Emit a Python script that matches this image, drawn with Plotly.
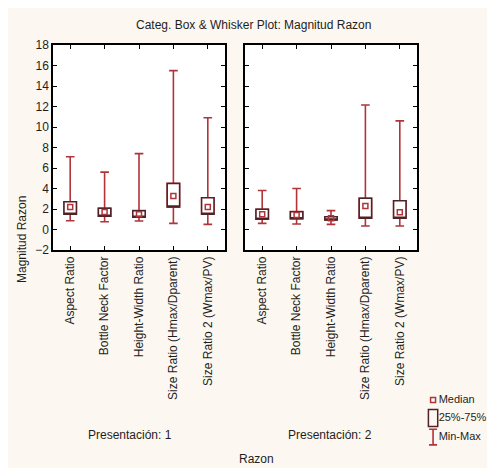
import plotly.graph_objects as go

# ---------------- data ----------------
categories = ["Aspect Ratio", "Bottle Neck Factor", "Height-Width Ratio",
              "Size Ratio (Hmax/Dparent)", "Size Ratio 2 (Wmax/PV)"]
positions = [0, 1, 2, 3, 4]

p1_min = [0.86, 0.76, 0.83, 0.60, 0.50]
p1_q1 = [1.50, 1.30, 1.19, 2.20, 1.50]
p1_med = [2.20, 1.70, 1.48, 3.27, 2.20]
p1_q3 = [2.70, 2.07, 1.84, 4.50, 3.10]
p1_max = [7.10, 5.60, 7.40, 15.50, 10.90]

p2_min = [0.60, 0.54, 0.50, 0.34, 0.34]
p2_q1 = [1.00, 1.05, 0.93, 1.10, 1.10]
p2_med = [1.48, 1.41, 1.10, 2.30, 1.68]
p2_q3 = [1.97, 1.74, 1.25, 3.04, 2.80]
p2_max = [3.80, 4.00, 1.84, 12.15, 10.60]

y_ticks = [-2, 0, 2, 4, 6, 8, 10, 12, 14, 16, 18]
legend_labels = ["Median", "25%-75%", "Min-Max"]

# ---------------- styles ----------------
RED = "#b0343a"
DARK = "#4e2226"
CREAM = "#fcf8f1"
FONT = "Liberation Sans, Arial, sans-serif"
TXT = "#1e1e1e"
BOXW = 0.36

fig = go.Figure()

panels = [
    ("x", "y", p1_min, p1_q1, p1_med, p1_q3, p1_max),
    ("x2", "y2", p2_min, p2_q1, p2_med, p2_q3, p2_max),
]
for xa, ya, mn, q1, md, q3, mx in panels:
    # whiskers (red) with caps
    fig.add_trace(go.Box(
        x=positions, q1=q1, median=md, q3=q3, lowerfence=mn, upperfence=mx,
        width=BOXW, whiskerwidth=0.7, boxpoints=False,
        line=dict(color=RED, width=1.6), fillcolor="rgba(0,0,0,0)",
        xaxis=xa, yaxis=ya, showlegend=False, hoverinfo="skip"))
    # 25%-75% box (dark outline, white fill) covering the inner part
    fig.add_trace(go.Box(
        x=positions, q1=q1, median=q1, q3=q3, lowerfence=q1, upperfence=q3,
        width=BOXW, whiskerwidth=1, boxpoints=False,
        line=dict(color=DARK, width=1.5), fillcolor="white",
        xaxis=xa, yaxis=ya, showlegend=False, hoverinfo="skip"))
    # median marker
    fig.add_trace(go.Scatter(
        x=positions, y=md, mode="markers",
        marker=dict(symbol="square-open", size=5, color=RED, line=dict(width=1.5)),
        xaxis=xa, yaxis=ya, showlegend=False))

# ---------------- custom legend (own hidden axes) ----------------
leg_y = [0.82, 0.50, 0.16]
leg_x = 0.13
fig.add_trace(go.Scatter(
    x=[leg_x], y=[leg_y[0]], mode="markers",
    marker=dict(symbol="square-open", size=5, color=RED, line=dict(width=1.5)),
    xaxis="x3", yaxis="y3", showlegend=False, hoverinfo="skip"))
fig.add_trace(go.Bar(
    x=[leg_x], y=[0.30], base=[leg_y[1] - 0.15], width=[0.15],
    marker=dict(color="rgba(0,0,0,0)", line=dict(color=DARK, width=1.5)),
    xaxis="x3", yaxis="y3", showlegend=False, hoverinfo="skip"))
fig.add_trace(go.Scatter(
    x=[leg_x], y=[leg_y[2]], mode="markers", marker=dict(size=1, color="rgba(0,0,0,0)"),
    error_y=dict(type="data", symmetric=True, array=[0.14], color=RED, thickness=1.6, width=4),
    xaxis="x3", yaxis="y3", showlegend=False, hoverinfo="skip"))
fig.add_trace(go.Scatter(
    x=[0.22] * 3, y=leg_y, mode="text", text=legend_labels, textposition="middle right",
    textfont=dict(family=FONT, size=11, color=TXT),
    xaxis="x3", yaxis="y3", showlegend=False, hoverinfo="skip"))

# ---------------- layout ----------------
# page body has an 8px margin -> screen coordinate = figure coordinate + 8
OFF = 8
W, H = 495, 468
ML = 53 - OFF          # plot area left  (screen 53)
MT = 45 - OFF          # plot area top   (screen 45)
MR = W - (487 - OFF)   # plot area right (screen 487)
MB = H - (448 - OFF)   # plot area bottom (screen 448)
PW, PH = W - ML - MR, H - MT - MB


def px(xs):
    return (xs - OFF - ML) / PW


def py(ys):
    return (H - MB - (ys - OFF)) / PH


xcommon = dict(
    tickmode="array", tickvals=positions, ticktext=categories, tickangle=-90,
    range=[-0.5, 4.5], showline=True, linecolor="black", linewidth=1.5,
    mirror="ticks", ticks="inside", ticklen=4, tickcolor="black",
    showgrid=False, zeroline=False,
    tickfont=dict(family=FONT, size=12, color=TXT))
ycommon = dict(
    range=[-2, 18], tickvals=y_ticks, showline=True, linecolor="black", linewidth=1.5,
    mirror="ticks", ticks="inside", ticklen=4, tickcolor="black",
    showgrid=False, zeroline=False,
    tickfont=dict(family=FONT, size=12, color=TXT))

ydom = [py(250), 1]
fig.update_layout(
    width=W, height=H,
    margin=dict(l=ML, r=MR, t=MT, b=MB),
    paper_bgcolor=CREAM, plot_bgcolor=CREAM,
    font=dict(family=FONT, size=12, color=TXT),
    boxmode="overlay", barmode="overlay",
    xaxis=dict(domain=[0, px(225)], anchor="y", **xcommon),
    yaxis=dict(domain=ydom, anchor="x", **ycommon),
    xaxis2=dict(domain=[px(245), px(417)], anchor="y2", **xcommon),
    yaxis2=dict(domain=ydom, anchor="x2", showticklabels=False, **ycommon),
    xaxis3=dict(domain=[px(425), 1], anchor="y3", range=[0, 1], visible=False),
    yaxis3=dict(domain=[py(446), py(390)], anchor="x3", range=[0, 1], visible=False),
    showlegend=False,
)

shapes = [
    dict(type="rect", xref="x domain", yref="y domain", x0=0, x1=1, y0=0, y1=1,
         fillcolor="white", line=dict(width=0), layer="below"),
    dict(type="rect", xref="x2 domain", yref="y2 domain", x0=0, x1=1, y0=0, y1=1,
         fillcolor="white", line=dict(width=0), layer="below"),
]
fig.update_layout(shapes=shapes)

ann = [
    dict(text="Categ. Box & Whisker Plot: Magnitud Razon", x=px(253), y=py(25)),
    dict(text="Presentación: 1", x=px(130), y=py(435)),
    dict(text="Presentación: 2", x=px(330), y=py(435)),
    dict(text="Razon", x=px(256), y=py(459)),
    dict(text="Magnitud Razon", x=px(22), y=py(240), textangle=-90),
]
for a in ann:
    fig.add_annotation(xref="paper", yref="paper", showarrow=False,
                       xanchor="center", yanchor="middle",
                       font=dict(family=FONT, size=12, color=TXT), **a)

fig.write_html("out.html")
